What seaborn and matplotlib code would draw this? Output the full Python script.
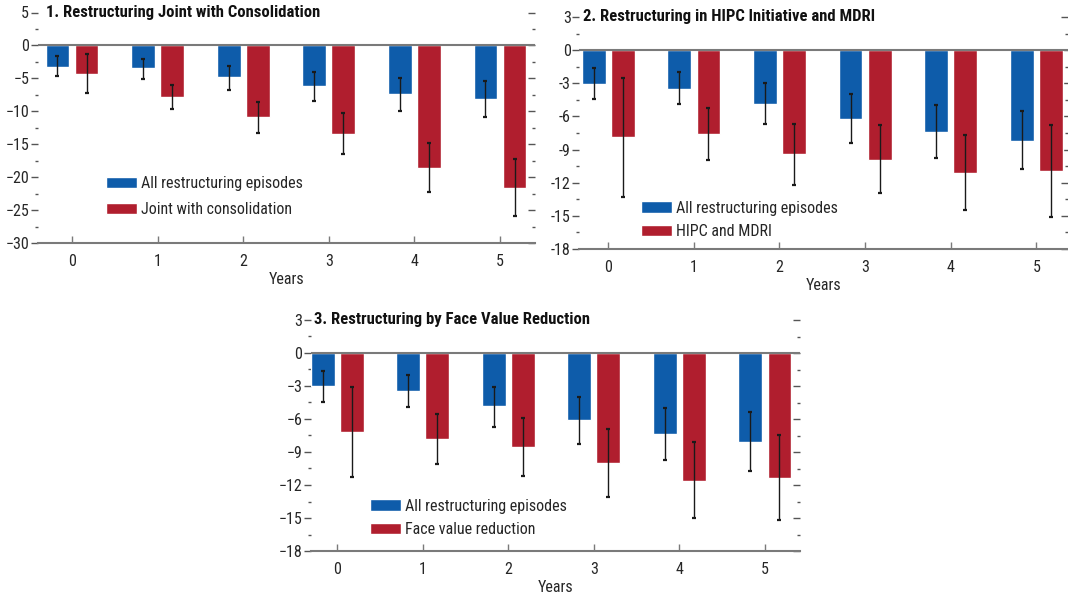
import matplotlib
matplotlib.use("Agg")
import matplotlib.pyplot as plt
from matplotlib import font_manager
from matplotlib.ticker import MultipleLocator, FuncFormatter
import numpy as np
import pandas as pd
import seaborn as sns

# ---------------- data ----------------
years = ["0", "1", "2", "3", "4", "5"]

# Panel 1
p1_all = [-3.2, -3.5, -4.8, -6.2, -7.3, -8.1]
p1_all_hi = [-1.6, -2.0, -3.1, -4.0, -5.0, -5.4]
p1_all_lo = [-4.6, -5.1, -6.8, -8.5, -9.9, -10.8]
p1_cmp = [-4.3, -7.9, -10.9, -13.4, -18.6, -21.6]
p1_cmp_hi = [-1.3, -6.0, -8.6, -10.3, -14.8, -17.3]
p1_cmp_lo = [-7.2, -9.7, -13.3, -16.5, -22.2, -25.9]

# Panel 2
p2_all = [-3.1, -3.5, -4.9, -6.2, -7.4, -8.2]
p2_all_hi = [-1.6, -2.0, -3.0, -4.0, -5.0, -5.5]
p2_all_lo = [-4.4, -4.9, -6.7, -8.4, -9.8, -10.8]
p2_cmp = [-7.9, -7.6, -9.4, -9.9, -11.1, -10.9]
p2_cmp_hi = [-2.5, -5.2, -6.7, -6.8, -7.7, -6.8]
p2_cmp_lo = [-13.3, -9.9, -12.2, -12.9, -14.5, -15.1]

# Panel 3
p3_all = [-3.0, -3.5, -4.85, -6.1, -7.4, -8.05]
p3_all_hi = [-1.6, -2.0, -3.1, -4.0, -5.0, -5.4]
p3_all_lo = [-4.5, -4.9, -6.7, -8.3, -9.7, -10.7]
p3_cmp = [-7.15, -7.85, -8.55, -10.0, -11.6, -11.4]
p3_cmp_hi = [-3.1, -5.55, -5.9, -6.9, -8.1, -7.5]
p3_cmp_lo = [-11.3, -10.1, -11.2, -13.1, -15.0, -15.2]

titles = ["1. Restructuring Joint with Consolidation",
          "2. Restructuring in HIPC Initiative and MDRI",
          "3. Restructuring by Face Value Reduction"]
base_label = "All restructuring episodes"
cmp_labels = ["Joint with consolidation", "HIPC and MDRI", "Face value reduction"]
x_label = "Years"

BLUE = "#0E5CAA"
RED = "#B01E2E"
GRAY = "#7a7a7a"
TXT = "#262626"

# ---------------- style ----------------
sns.set_style("white")

# look for a condensed sans face (the reference uses a narrow grotesque)
entries = font_manager.fontManager.ttflist
names = {f.name for f in entries}
main_font, stretch, condensed = "Liberation Sans", "normal", False
for cand in ["Liberation Sans Narrow", "Roboto Condensed", "Open Sans Condensed",
             "Noto Sans Condensed", "Arial Narrow"]:
    if cand in names:
        main_font, condensed = cand, True
        break
if not condensed:
    for fam in ["Roboto", "Noto Sans", "Open Sans"]:
        if any(f.name == fam and str(f.stretch) in ("condensed", "semi-condensed", "75", "87.5")
               for f in entries):
            main_font, stretch, condensed = fam, "condensed", True
            break

plt.rcParams["font.family"] = [main_font, "DejaVu Sans"]
plt.rcParams["font.stretch"] = stretch
plt.rcParams["axes.unicode_minus"] = True

FS = 11.5 if condensed else 10
TFS = 12 if condensed else 10.5

W, H = 1068, 596
fig = plt.figure(figsize=(W / 100, H / 100), dpi=100)
fig.patch.set_facecolor("white")


def px_axes(left, top, right, bottom):
    return fig.add_axes([left / W, 1 - bottom / H, (right - left) / W, (bottom - top) / H])


panels = [
    dict(box=(37.5, 12.5, 535, 243), xlim=(-0.403, 5.409), ylim=(-30, 5), step=5,
         unicode=True, series=(p1_all, p1_all_lo, p1_all_hi, p1_cmp, p1_cmp_lo, p1_cmp_hi),
         leg=(106, 196.5), title_dx=9, labsp=0.65),
    dict(box=(579, 17, 1068, 249), xlim=(-0.342, 5.37), ylim=(-18, 3), step=3,
         unicode=False, series=(p2_all, p2_all_lo, p2_all_hi, p2_cmp, p2_cmp_lo, p2_cmp_hi),
         leg=(641, 220), title_dx=4, labsp=0.55),
    dict(box=(310.5, 320, 800, 551), xlim=(-0.312, 5.41), ylim=(-18, 3), step=3,
         unicode=True, series=(p3_all, p3_all_lo, p3_all_hi, p3_cmp, p3_cmp_lo, p3_cmp_hi),
         leg=(370, 518), title_dx=3, labsp=0.55),
]

for i, p in enumerate(panels):
    ax = px_axes(*p["box"])
    a, alo, ahi, c, clo, chi = p["series"]
    hue_order = [base_label, cmp_labels[i]]
    df = pd.DataFrame({
        "Year": years * 2,
        "Series": [base_label] * 6 + [cmp_labels[i]] * 6,
        "Value": a + c,
        "lo": alo + clo,
        "hi": ahi + chi,
    })
    sns.barplot(data=df, x="Year", y="Value", hue="Series", order=years,
                hue_order=hue_order, palette=[BLUE, RED],
                saturation=1, width=0.68, gap=0.18, errorbar=None, ax=ax, zorder=2)

    bar_containers = list(ax.containers)
    for k, cont in enumerate(bar_containers):
        sub = df[df["Series"] == hue_order[k]]
        xs = [b.get_x() + b.get_width() / 2 for b in cont]
        vals = sub["Value"].to_numpy()
        lo = sub["lo"].to_numpy()
        hi = sub["hi"].to_numpy()
        ax.errorbar(xs, vals, yerr=[vals - lo, hi - vals], fmt="none",
                    ecolor="#1a1a1a", elinewidth=1.0, capsize=1.4, capthick=1.6, zorder=4)

    ax.axhline(0, color=GRAY, lw=1.5, zorder=3)
    ax.set_xlim(*p["xlim"])
    ax.set_ylim(*p["ylim"])

    step = p["step"]
    ax.yaxis.set_major_locator(MultipleLocator(step))
    ax.yaxis.set_minor_locator(MultipleLocator(step / 2))
    if p["unicode"]:
        fmt = FuncFormatter(lambda v, pos: f"{v:g}".replace("-", "\u2212"))
    else:
        fmt = FuncFormatter(lambda v, pos: f"{v:g}")
    ax.yaxis.set_major_formatter(fmt)

    for s in ["left", "top", "right"]:
        ax.spines[s].set_visible(False)
    ax.spines["bottom"].set_color(GRAY)
    ax.spines["bottom"].set_linewidth(1.5)

    ax.tick_params(axis="y", which="major", direction="out", length=5, width=1,
                   color="#555555", labelsize=FS, labelcolor=TXT, pad=1, left=True)
    ax.tick_params(axis="y", which="minor", direction="out", length=2, width=1,
                   color="#555555", left=True)
    ax.tick_params(axis="x", which="major", direction="in", length=5, width=1,
                   color=GRAY, labelsize=FS, labelcolor=TXT, pad=8, bottom=True)

    sec = ax.secondary_yaxis("right")
    sec.yaxis.set_major_locator(MultipleLocator(step))
    sec.yaxis.set_minor_locator(MultipleLocator(step / 2))
    sec.spines["right"].set_visible(False)
    sec.tick_params(axis="y", which="major", direction="in", length=5, width=1,
                    color="#555555", labelright=False)
    sec.tick_params(axis="y", which="minor", direction="in", length=2.5, width=1,
                    color="#555555", labelright=False)

    ax.set_xlabel(x_label, fontsize=FS, color=TXT, labelpad=2)
    ax.set_ylabel("")

    ax.annotate(titles[i], xy=(0, 1), xycoords="axes fraction",
                xytext=(p["title_dx"], 0), textcoords="offset pixels",
                ha="left", va="center", fontsize=TFS, fontweight="bold", color="#111111")

    lx, ly = p["leg"]
    ax.legend(loc="center left", bbox_to_anchor=(lx / W, 1 - ly / H),
              bbox_transform=fig.transFigure, frameon=False, fontsize=FS,
              borderpad=0, borderaxespad=0, handlelength=31 / (FS * 1.389),
              handleheight=0.7, handletextpad=0.25, labelspacing=p["labsp"],
              labelcolor=TXT)

fig.savefig("out.png", dpi=100, facecolor="white")
